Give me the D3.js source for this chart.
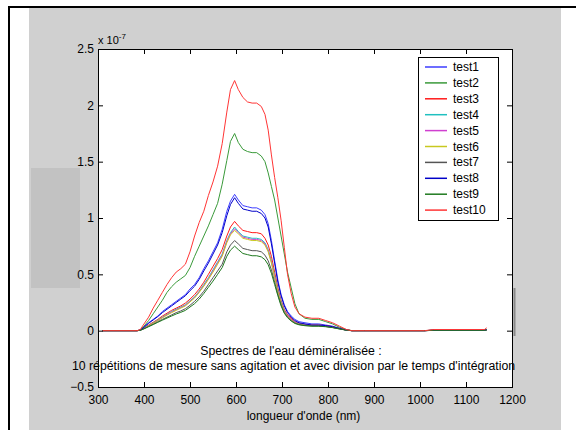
<!DOCTYPE html>
<html><head><meta charset="utf-8">
<script src="https://cdn.jsdelivr.net/npm/d3@7"></script>
<style>body{margin:0;background:#fff}svg{display:block}text{font-family:"Liberation Sans",Arial,sans-serif;fill:#000}</style>
</head><body><svg id="c" width="576" height="430"></svg>
<script>
const wavelengths = [310,385,392,400,410,420,430,440,450,460,470,480,490,500,510,520,530,540,550,560,570,580,588,597,605,615,625,635,645,655,663,670,677,684,691,698,705,712,720,728,737,750,765,780,795,810,825,840,852,880,1010,1030,1140,1145];
const seriesNames = ["test1","test2","test3","test4","test5","test6","test7","test8","test9","test10"];
const seriesColors = ["#3c3cff","#3a9a3a","#ff1a1a","#20c0c0","#d040d0","#c8c820","#555555","#0000c8","#1f7a1f","#ff3535"];
const test1 = [0,0,0.005,0.035,0.07,0.10,0.13,0.17,0.20,0.23,0.26,0.29,0.32,0.37,0.41,0.47,0.55,0.62,0.70,0.78,0.90,1.06,1.15,1.21,1.16,1.11,1.10,1.09,1.09,1.07,1.03,0.95,0.80,0.62,0.45,0.32,0.23,0.17,0.13,0.10,0.08,0.07,0.06,0.06,0.05,0.04,0.02,0.005,0,0,0,0.005,0.005,0.01];
const test2 = [0,0,0.005,0.04,0.09,0.15,0.21,0.27,0.34,0.39,0.43,0.46,0.49,0.56,0.66,0.75,0.84,0.93,1.03,1.13,1.30,1.51,1.68,1.75,1.67,1.61,1.59,1.58,1.58,1.55,1.50,1.40,1.28,1.16,1.00,0.84,0.68,0.52,0.38,0.24,0.15,0.11,0.10,0.10,0.08,0.06,0.03,0.01,0,0,0,0.005,0.005,0.01];
const test3 = [0,0,0.004,0.025,0.05,0.075,0.10,0.13,0.155,0.18,0.20,0.22,0.245,0.28,0.32,0.37,0.43,0.50,0.57,0.64,0.72,0.84,0.92,0.97,0.93,0.89,0.88,0.87,0.87,0.86,0.82,0.76,0.66,0.52,0.38,0.27,0.19,0.14,0.11,0.08,0.065,0.055,0.05,0.05,0.045,0.035,0.02,0.005,0,0,0,0.004,0.004,0.008];
const test4 = [0,0,0.004,0.022,0.045,0.07,0.095,0.12,0.145,0.17,0.19,0.21,0.23,0.265,0.30,0.35,0.41,0.47,0.54,0.61,0.68,0.80,0.87,0.92,0.88,0.84,0.83,0.82,0.82,0.81,0.78,0.72,0.62,0.49,0.36,0.26,0.18,0.13,0.10,0.075,0.06,0.05,0.045,0.045,0.04,0.03,0.018,0.005,0,0,0,0.003,0.003,0.006];
const test5 = [0,0,0.004,0.021,0.044,0.068,0.092,0.117,0.142,0.165,0.185,0.205,0.225,0.26,0.295,0.345,0.40,0.46,0.53,0.60,0.67,0.79,0.86,0.905,0.87,0.83,0.82,0.81,0.81,0.80,0.77,0.71,0.61,0.48,0.35,0.25,0.175,0.13,0.10,0.075,0.06,0.05,0.045,0.045,0.04,0.03,0.018,0.005,0,0,0,0.003,0.003,0.006];
const test6 = [0,0,0.004,0.02,0.043,0.066,0.09,0.114,0.138,0.16,0.18,0.20,0.22,0.255,0.29,0.34,0.395,0.455,0.52,0.59,0.66,0.78,0.85,0.89,0.86,0.82,0.81,0.80,0.80,0.79,0.76,0.70,0.60,0.47,0.345,0.245,0.17,0.125,0.095,0.07,0.058,0.048,0.043,0.043,0.038,0.03,0.017,0.005,0,0,0,0.003,0.003,0.006];
const test7 = [0,0,0.004,0.018,0.038,0.058,0.08,0.10,0.12,0.14,0.16,0.175,0.195,0.225,0.26,0.30,0.35,0.41,0.47,0.53,0.59,0.70,0.76,0.80,0.77,0.73,0.72,0.71,0.71,0.70,0.67,0.62,0.54,0.43,0.32,0.23,0.16,0.12,0.09,0.068,0.055,0.046,0.042,0.042,0.037,0.028,0.016,0.005,0,0,0,0.003,0.003,0.006];
const test8 = [0,0,0.005,0.03,0.065,0.095,0.125,0.16,0.19,0.22,0.25,0.28,0.31,0.355,0.395,0.455,0.53,0.60,0.68,0.76,0.87,1.02,1.12,1.18,1.13,1.08,1.07,1.06,1.06,1.04,1.00,0.92,0.77,0.60,0.43,0.31,0.22,0.16,0.12,0.09,0.07,0.06,0.05,0.05,0.045,0.035,0.02,0.005,0,0,0,0.004,0.004,0.008];
const test9 = [0,0,0.003,0.016,0.035,0.054,0.074,0.093,0.112,0.13,0.148,0.163,0.18,0.21,0.24,0.28,0.33,0.385,0.44,0.50,0.56,0.66,0.715,0.75,0.72,0.685,0.675,0.665,0.665,0.655,0.63,0.585,0.51,0.41,0.31,0.22,0.155,0.115,0.085,0.064,0.052,0.044,0.04,0.04,0.035,0.027,0.015,0.004,0,0,0,0.003,0.003,0.006];
const test10 = [0,0,0.01,0.06,0.12,0.20,0.27,0.34,0.41,0.47,0.52,0.55,0.59,0.70,0.84,0.96,1.06,1.20,1.32,1.46,1.66,1.94,2.14,2.22,2.14,2.07,2.03,2.02,2.02,1.99,1.92,1.78,1.56,1.36,1.18,0.98,0.74,0.50,0.33,0.21,0.15,0.12,0.11,0.11,0.09,0.07,0.04,0.01,0,0,0,0.01,0.01,0.025];
const seriesValues = [test1,test2,test3,test4,test5,test6,test7,test8,test9,test10];
const xTicks = [300,400,500,600,700,800,900,1000,1100,1200];
const yTicks = [-0.5,0,0.5,1,1.5,2,2.5];
const titleLines = ["Spectres de l'eau déminéralisée :","10 répétitions de mesure sans agitation et avec division par le temps d'intégration"];
const xLabel = "longueur d'onde (nm)";

const svg = d3.select("#c");
// page frame
svg.append("rect").attr("x",29).attr("y",8).attr("width",532).attr("height",422).attr("fill","#d0d0d0");
svg.append("rect").attr("x",31).attr("y",168).attr("width",49).attr("height",120).attr("fill","#c2c2c2");
svg.append("line").attr("x1",8).attr("x2",576).attr("y1",7).attr("y2",7).attr("stroke","#000").attr("stroke-width",2);
svg.append("line").attr("x1",9).attr("x2",9).attr("y1",6).attr("y2",430).attr("stroke","#000").attr("stroke-width",2);
svg.append("line").attr("x1",514.5).attr("x2",514.5).attr("y1",288).attr("y2",336).attr("stroke","#888").attr("stroke-width",2);

const L=98,R=512,T=49,B=387;
const x = d3.scaleLinear().domain([300,1200]).range([L,R]);
const y = d3.scaleLinear().domain([-0.5,2.5]).range([B,T]);
svg.append("rect").attr("x",L).attr("y",T).attr("width",R-L).attr("height",B-T).attr("fill","#fff");

const g = svg.append("g");
const line = d3.line().x((d,i)=>x(wavelengths[i])).y(d=>y(d));
seriesValues.forEach((vals,k)=>{
  g.append("path").datum(vals).attr("d",line).attr("fill","none").attr("stroke",seriesColors[k]).attr("stroke-width",1);
});

// axes
const fs = "12px";
const axB = d3.axisBottom(x).tickValues(xTicks).tickSize(-5).tickPadding(8).tickFormat(d3.format("d"));
const axT = d3.axisTop(x).tickValues(xTicks).tickSize(-5).tickFormat("");
const axL = d3.axisLeft(y).tickValues(yTicks).tickSize(-5).tickPadding(4).tickFormat(d=>d===0?"0":d3.format("")(d));
const axR = d3.axisRight(y).tickValues(yTicks).tickSize(-5).tickFormat("");
[[axB,`translate(0,${B})`],[axT,`translate(0,${T})`],[axL,`translate(${L},0)`],[axR,`translate(${R},0)`]].forEach(([a,t])=>{
  const gg = svg.append("g").attr("transform",t).call(a);
  gg.select(".domain").remove();
  gg.selectAll("line").attr("stroke","#000");
  gg.selectAll("text").style("font-size",fs).attr("font-family","Liberation Sans, Arial, sans-serif").attr("fill","#000");
});
svg.append("rect").attr("x",L).attr("y",T).attr("width",R-L).attr("height",B-T).attr("fill","none").attr("stroke","#000").attr("stroke-width",1).attr("shape-rendering","crispEdges");

// exponent
const ex = svg.append("text").attr("x",98).attr("y",44).style("font-size","11px");
ex.append("tspan").text("x 10");
ex.append("tspan").attr("dy",-5).style("font-size","8px").text("-7");

// title text inside plot
svg.append("text").attr("x",291).attr("y",355).attr("text-anchor","middle").style("font-size","12.3px").text(titleLines[0]);
svg.append("text").attr("x",293.5).attr("y",370).attr("text-anchor","middle").style("font-size","12.3px").text(titleLines[1]);
svg.append("text").attr("x",303.5).attr("y",420).attr("text-anchor","middle").style("font-size","12px").text(xLabel);

// legend
const lg = svg.append("g");
lg.append("rect").attr("x",418.5).attr("y",57.5).attr("width",80).attr("height",163).attr("fill","#fff").attr("stroke","#000").attr("stroke-width",1);
seriesNames.forEach((n,i)=>{
  const yy = 67 + i*15.9;
  lg.append("line").attr("x1",425).attr("x2",447).attr("y1",yy).attr("y2",yy).attr("stroke",seriesColors[i]).attr("stroke-width",1.5);
  lg.append("text").attr("x",453).attr("y",yy+4).style("font-size","12px").text(n);
});
</script></body></html>
